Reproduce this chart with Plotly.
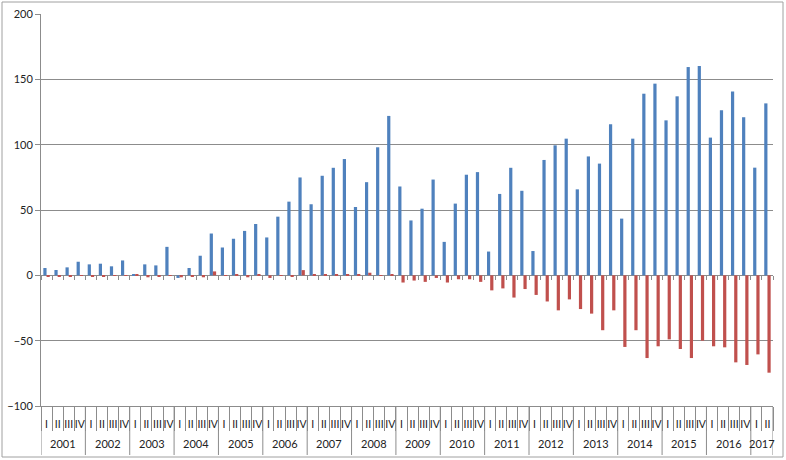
import plotly.graph_objects as go

years = ["2001", "2002", "2003", "2004", "2005", "2006", "2007", "2008",
         "2009", "2010", "2011", "2012", "2013", "2014", "2015", "2016", "2017"]
quarters = ["I", "II", "III", "IV"]
quarters_last_year = ["I", "II"]

blue_values = [
    5.6, 4.1, 6.1, 10.4,
    8.4, 8.9, 6.9, 11.4,
    0.5, 8.4, 7.6, 21.8,
    -2.0, 5.6, 15.0, 32.0,
    21.3, 28.0, 34.0, 39.3,
    29.0, 44.9, 56.4, 74.9,
    54.4, 76.2, 82.3, 89.0,
    52.3, 71.3, 98.0, 122.0,
    68.0, 42.0, 51.0, 73.3,
    25.6, 54.9, 77.0, 79.0,
    18.2, 62.3, 82.3, 64.7,
    18.6, 88.3, 99.5, 104.6,
    65.8, 91.0, 85.5, 115.6,
    43.4, 104.6, 139.0, 146.7,
    118.6, 137.0, 159.4, 160.2,
    105.4, 126.3, 140.6, 121.0,
    82.4, 131.6,
]
red_values = [
    -1.0, -1.0, -1.0, -0.5,
    -1.0, -1.0, -0.5, -0.5,
    1.0, -1.5, -1.0, -0.5,
    -1.5, -1.0, -1.5, 3.0,
    -0.5, 0.5, -1.5, 1.0,
    -2.0, -0.5, -1.0, 4.0,
    0.5, 0.5, 0.5, 1.0,
    0.5, 2.0, -0.5, 1.0,
    -5.5, -4.0, -5.0, -2.0,
    -5.5, -3.0, -3.0, -5.0,
    -11.5, -10.0, -17.0, -10.5,
    -15.0, -20.0, -26.8, -18.4,
    -25.8, -29.3, -42.0, -26.8,
    -54.8, -42.0, -63.3, -54.3,
    -49.0, -56.4, -63.3, -50.0,
    -54.3, -55.1, -66.6, -68.6,
    -60.5, -74.5,
]
y_ticks = [-100, -50, 0, 50, 100, 150, 200]

# build category keys and label levels
keys = []
quarter_level = []
year_spans = []  # (year, first index, last index)
for y in years:
    qs = quarters_last_year if y == years[-1] else quarters
    start = len(keys)
    for q in qs:
        keys.append(f"{y} {q}")
        quarter_level.append(q)
    year_spans.append((y, start, len(keys) - 1))

BLUE = "#4F81BD"
RED = "#C0504D"
GRID = "#8C8C8C"
FONT = "Lato"
TXT = "#222222"

y_min, y_max = y_ticks[0], y_ticks[-1]

fig = go.Figure()
fig.add_trace(go.Bar(x=keys, y=blue_values, marker=dict(color=BLUE, line=dict(width=0)),
                     name="blue", showlegend=False))
fig.add_trace(go.Bar(x=keys, y=red_values, marker=dict(color=RED, line=dict(width=0)),
                     name="red", showlegend=False))
# invisible helper on an overlaid axis to draw the small ticks along the zero line
fig.add_trace(go.Scatter(x=keys, y=[None] * len(keys), xaxis="x2", mode="markers",
                         marker=dict(opacity=0), showlegend=False, hoverinfo="skip"))

W, H = 786, 460
ml, mr, mt, mb = 41, 13, 14, 54
pw, ph = W - ml - mr, H - mt - mb

fig.update_layout(
    width=W, height=H,
    margin=dict(l=ml, r=mr, t=mt, b=mb, autoexpand=False),
    paper_bgcolor="white", plot_bgcolor="white",
    barmode="group", bargap=0.42, bargroupgap=0.0,
    font=dict(family=FONT, size=11, color=TXT),
    xaxis=dict(
        type="category", automargin=False, tickangle=0,
        tickmode="array", tickvals=keys, ticktext=quarter_level,
        range=[-0.5, len(keys) - 0.5],
        showline=True, linecolor=GRID, linewidth=1,
        ticks="outside", ticklen=24, tickcolor=GRID, tickwidth=1,
        tickson="boundaries", ticklabelstandoff=8,
        showgrid=False, zeroline=False,
        tickfont=dict(family=FONT, size=10.5, color=TXT),
    ),
    xaxis2=dict(
        type="category", overlaying="x", anchor="free", automargin=False,
        tickmode="array", tickvals=keys,
        range=[-0.5, len(keys) - 0.5],
        position=(0 - y_min) / (y_max - y_min),
        showline=False, ticks="outside", ticklen=4, tickcolor=GRID, tickwidth=1,
        tickson="boundaries", showticklabels=False,
        showgrid=False, zeroline=False,
    ),
    yaxis=dict(
        range=[y_min, y_max], tickvals=y_ticks, automargin=False,
        showgrid=True, gridcolor=GRID, gridwidth=1,
        zeroline=True, zerolinecolor=GRID, zerolinewidth=1,
        showline=True, linecolor=GRID, linewidth=1,
        ticks="outside", ticklen=5, tickcolor=GRID,
        tickfont=dict(family=FONT, size=11, color=TXT),
    ),
)

# year row: labels centred under each year's quarters, dividers between years
year_label_y = -(443 - (H - mb)) / ph
divider_bottom = -(455 - (H - mb)) / ph
for y, i0, i1 in year_spans:
    fig.add_annotation(x=(i0 + i1) / 2, xref="x", y=year_label_y, yref="paper",
                       text=y, showarrow=False, xanchor="center", yanchor="middle",
                       font=dict(family=FONT, size=11, color=TXT))
    fig.add_shape(type="line", xref="x", yref="paper", x0=i0 - 0.5, x1=i0 - 0.5,
                  y0=0, y1=divider_bottom, line=dict(color=GRID, width=1))
fig.add_shape(type="line", xref="x", yref="paper", x0=len(keys) - 0.5, x1=len(keys) - 0.5,
              y0=0, y1=divider_bottom, line=dict(color=GRID, width=1))

# outer chart border
fig.add_shape(type="rect", xref="paper", yref="paper",
              x0=(2 - ml) / pw, x1=(W - 3 - ml) / pw,
              y0=-(H - 3 - (H - mb)) / ph, y1=1 + (mt - 2) / ph,
              line=dict(color="#A0A0A0", width=1), fillcolor="rgba(0,0,0,0)", layer="below")

fig.write_html("out.html", config={"displayModeBar": False},
               post_script="document.body.style.margin='0';document.body.style.overflow='hidden';")
